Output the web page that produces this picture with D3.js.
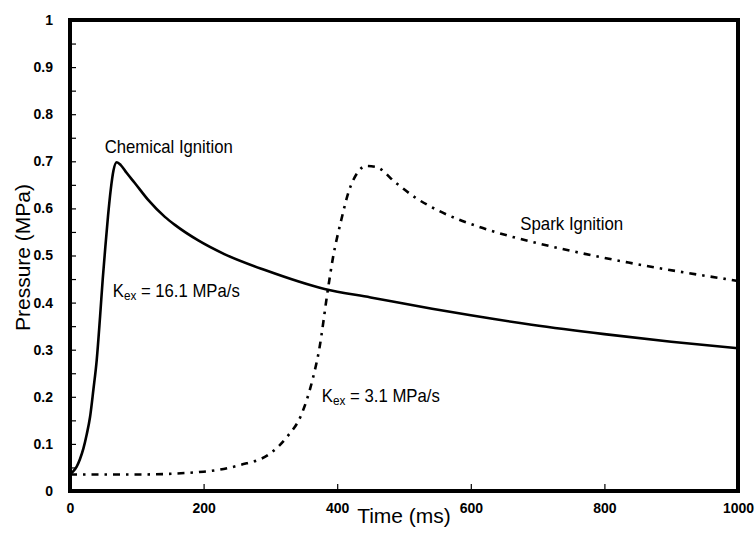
<html>
<head>
<script src="https://cdn.jsdelivr.net/npm/d3@7/dist/d3.min.js"></script>
<style>
body { margin: 0; background: #fff; }
text { font-family: "Liberation Sans", Arial, sans-serif; fill: #000; }
.tick text { font-size: 14px; font-weight: bold; }
.tick line { stroke: #000; stroke-width: 1.2px; }
</style>
</head>
<body>
<svg id="chart" width="755" height="545"></svg>
<script>
// chemical ignition run (ms, MPa)
var chemTime = [0, 5, 10, 15, 20, 25, 30, 35, 40, 45, 49, 53, 57, 61, 65, 70, 76, 85, 97, 117, 142, 157, 192, 231, 294, 381, 450, 542, 600, 691, 800, 900, 1000];
var chemP    = [0.035, 0.042, 0.052, 0.068, 0.09, 0.12, 0.157, 0.215, 0.278, 0.37, 0.45, 0.52, 0.585, 0.64, 0.68, 0.698, 0.692, 0.675, 0.654, 0.618, 0.582, 0.565, 0.532, 0.503, 0.468, 0.429, 0.411, 0.387, 0.373, 0.353, 0.333, 0.317, 0.303];

// spark ignition run
var sparkTime = [0, 100, 200, 254, 300, 325, 346, 363, 373, 386, 393, 406, 418, 430, 443, 458, 488, 518, 552, 612, 661, 706, 836, 1000];
var sparkP    = [0.035, 0.035, 0.041, 0.055, 0.08, 0.115, 0.161, 0.236, 0.30, 0.427, 0.49, 0.575, 0.639, 0.675, 0.69, 0.688, 0.654, 0.622, 0.595, 0.561, 0.540, 0.524, 0.485, 0.446];

var xTicks = [0, 200, 400, 600, 800, 1000];
var yTicks = d3.range(0, 1.0001, 0.05);

var svg = d3.select("#chart");
var margin = { top: 20, right: 17, bottom: 54, left: 70 };
var W = 755, H = 545;

var x = d3.scaleLinear().domain([0, 1000]).range([margin.left, W - margin.right]);
var y = d3.scaleLinear().domain([0, 1]).range([H - margin.bottom, margin.top]);

// axes, ticks point inward
var xAxis = d3.axisBottom(x).tickValues(xTicks).tickSizeInner(-7).tickSizeOuter(0).tickPadding(12)
    .tickFormat(d3.format("d"));
var yAxis = d3.axisLeft(y).tickValues(yTicks).tickSizeInner(-6).tickSizeOuter(0).tickPadding(17)
    .tickFormat(function(d) { return Math.round(d * 20) % 2 === 0 ? d3.format("~g")(+d.toFixed(2)) : ""; });

svg.append("g").attr("transform", "translate(0," + y(0) + ")").call(xAxis)
    .call(function(g) { g.select(".domain").remove(); });
svg.append("g").attr("transform", "translate(" + x(0) + ",0)").call(yAxis)
    .call(function(g) { g.select(".domain").remove(); });

var line = d3.line().curve(d3.curveMonotoneX)
    .x(function(d) { return x(d[0]); })
    .y(function(d) { return y(d[1]); });

svg.append("path")
    .datum(d3.zip(chemTime, chemP))
    .attr("d", line)
    .attr("fill", "none").attr("stroke", "#000").attr("stroke-width", 2.6)
    .attr("stroke-linejoin", "round");

svg.append("path")
    .datum(d3.zip(sparkTime, sparkP))
    .attr("d", line)
    .attr("fill", "none").attr("stroke", "#000").attr("stroke-width", 2.6)
    .attr("stroke-dasharray", "7,6,2.5,6");

// frame
svg.append("rect")
    .attr("x", x(0)).attr("y", y(1))
    .attr("width", x(1000) - x(0)).attr("height", y(0) - y(1))
    .attr("fill", "none").attr("stroke", "#000").attr("stroke-width", 4);

// axis titles
svg.append("text")
    .attr("x", (x(0) + x(1000)) / 2).attr("y", 523)
    .attr("text-anchor", "middle").style("font-size", "21px")
    .text("Time (ms)");
svg.append("text")
    .attr("transform", "translate(30," + (y(0.5) + 2) + ") rotate(-90)")
    .attr("text-anchor", "middle").style("font-size", "21px")
    .text("Pressure (MPa)");

// annotations
function label(t, p, txt, len) {
    svg.append("text").attr("x", x(t)).attr("y", y(p))
        .style("font-size", "18.5px")
        .attr("textLength", len).attr("lengthAdjust", "spacingAndGlyphs")
        .text(txt);
}
label(52, 0.718, "Chemical Ignition", 128);
label(674, 0.554, "Spark Ignition", 103);

function kLabel(t, p, val, len) {
    var tx = svg.append("text").attr("x", x(t)).attr("y", y(p))
        .style("font-size", "18.5px")
        .attr("textLength", len).attr("lengthAdjust", "spacingAndGlyphs");
    tx.append("tspan").text("K");
    tx.append("tspan").attr("dy", 3).style("font-size", "13px").text("ex");
    tx.append("tspan").attr("dy", -3).text(" = " + val + " MPa/s");
}
kLabel(64, 0.412, "16.1", 127);
kLabel(377, 0.189, "3.1", 118);
</script>
</body>
</html>
